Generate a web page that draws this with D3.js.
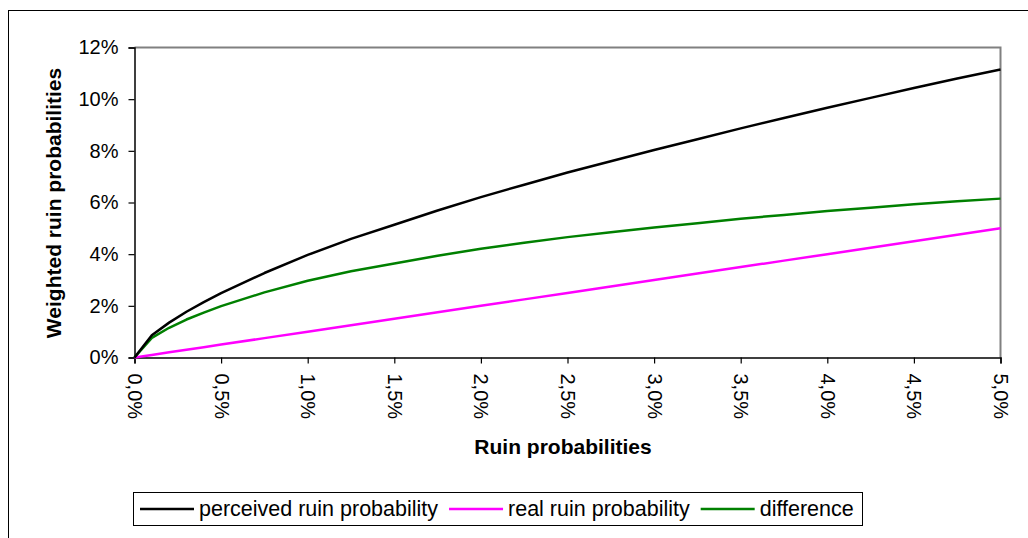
<!DOCTYPE html>
<html>
<head>
<meta charset="utf-8">
<script src="https://cdn.jsdelivr.net/npm/d3@7"></script>
<style>
  body { margin: 0; background: #fff; }
  svg { display: block; font-family: "Liberation Sans", Arial, sans-serif; }
</style>
</head>
<body>
<div id="chart"></div>
<script>
// ruin probabilities (x axis, in %)
var ruinProb = [0, 0.1, 0.2, 0.3, 0.4, 0.5, 0.75, 1.0, 1.25, 1.5, 1.75, 2.0, 2.25, 2.5,
                2.75, 3.0, 3.25, 3.5, 3.75, 4.0, 4.25, 4.5, 4.75, 5.0];
// series values (in %)
var perceived = [0, 0.86, 1.35, 1.77, 2.14, 2.49, 3.27, 3.97, 4.59, 5.14, 5.69, 6.21, 6.69, 7.16,
                 7.60, 8.03, 8.45, 8.87, 9.27, 9.67, 10.05, 10.43, 10.80, 11.15];
var real = [0, 0.1, 0.2, 0.3, 0.4, 0.5, 0.75, 1.0, 1.25, 1.5, 1.75, 2.0, 2.25, 2.5,
            2.75, 3.0, 3.25, 3.5, 3.75, 4.0, 4.25, 4.5, 4.75, 5.0];
var difference = [0, 0.76, 1.15, 1.47, 1.74, 1.99, 2.52, 2.97, 3.34, 3.64, 3.94, 4.21, 4.44, 4.66,
                  4.85, 5.03, 5.20, 5.37, 5.52, 5.67, 5.80, 5.93, 6.05, 6.15];
var xTicks = [0, 0.5, 1.0, 1.5, 2.0, 2.5, 3.0, 3.5, 4.0, 4.5, 5.0];
var yTicks = [0, 2, 4, 6, 8, 10, 12];
var seriesNames = ["perceived ruin probability", "real ruin probability", "difference"];
var seriesColors = ["#000000", "#ff00ff", "#008000"];

var W = 1028, H = 538;
var plotL = 134.5, plotR = 1000.5, plotT = 47.5, plotB = 357.5;

var svg = d3.select("#chart").append("svg").attr("width", W).attr("height", H);

// outer chart border (cut off at right and bottom)
svg.append("rect")
   .attr("x", 8.5).attr("y", 10.5).attr("width", W + 20).attr("height", H + 20)
   .style("fill", "none").style("stroke", "#000").style("stroke-width", 1);

var x = d3.scaleLinear().domain([0, 5]).range([plotL, plotR]);
var y = d3.scaleLinear().domain([0, 12]).range([plotB, plotT]);

// plot area frame: gray top and right
svg.append("path")
   .attr("d", "M" + plotL + "," + plotT + "H" + plotR + "V" + plotB)
   .style("fill", "none").style("stroke", "#808080").style("stroke-width", 2);

// y axis
var yAxis = svg.append("g")
   .attr("transform", "translate(" + plotL + ",0)")
   .call(d3.axisLeft(y).tickValues(yTicks).tickSize(6).tickPadding(10)
          .tickFormat(function(d) { return d + "%"; }));
yAxis.selectAll("text").style("font-size", "20px").style("fill", "#000");

// x axis
var xAxis = svg.append("g")
   .attr("transform", "translate(0," + plotB + ")")
   .call(d3.axisBottom(x).tickValues(xTicks).tickSize(6)
          .tickFormat(function(d) { return d.toFixed(1).replace(".", ",") + "%"; }));
xAxis.selectAll("text")
   .style("font-size", "20px").style("fill", "#000")
   .attr("y", 0).attr("x", 0).attr("dy", null)
   .attr("text-anchor", "start")
   .attr("dominant-baseline", "central")
   .attr("transform", "rotate(90) translate(16,0)");

svg.selectAll(".domain").style("stroke", "#000").style("stroke-width", 1.5);
svg.selectAll(".tick line").style("stroke", "#000").style("stroke-width", 1.2);

// lines
var allSeries = [perceived, real, difference];
var line = d3.line()
   .x(function(d, i) { return x(ruinProb[i]); })
   .y(function(d) { return y(d); });

// draw real first, then difference, then perceived on top
[1, 2, 0].forEach(function(k) {
  svg.append("path")
     .datum(allSeries[k])
     .attr("d", line)
     .style("fill", "none")
     .style("stroke", seriesColors[k])
     .style("stroke-width", 2.5)
     .style("stroke-linejoin", "round");
});

// axis titles
svg.append("text")
   .attr("x", 563).attr("y", 454)
   .attr("text-anchor", "middle")
   .style("font-size", "21px").style("font-weight", "bold")
   .text("Ruin probabilities");

svg.append("text")
   .attr("transform", "translate(61,203) rotate(-90)")
   .attr("text-anchor", "middle")
   .style("font-size", "21px").style("font-weight", "bold")
   .text("Weighted ruin probabilities");

// legend
var legend = svg.append("g");
legend.append("rect")
   .attr("x", 133.5).attr("y", 492.5).attr("width", 729).attr("height", 33)
   .style("fill", "#fff").style("stroke", "#000").style("stroke-width", 1);

var cursor = 140, ly = 509;
seriesNames.forEach(function(name, k) {
  legend.append("line")
     .attr("x1", cursor).attr("x2", cursor + 54)
     .attr("y1", ly).attr("y2", ly)
     .style("stroke", seriesColors[k]).style("stroke-width", 2.5);
  var t = legend.append("text")
     .attr("x", cursor + 59).attr("y", ly)
     .attr("dominant-baseline", "central")
     .style("font-size", "21.5px")
     .text(name);
  cursor = cursor + 59 + t.node().getComputedTextLength() + 11;
});
</script>
</body>
</html>
